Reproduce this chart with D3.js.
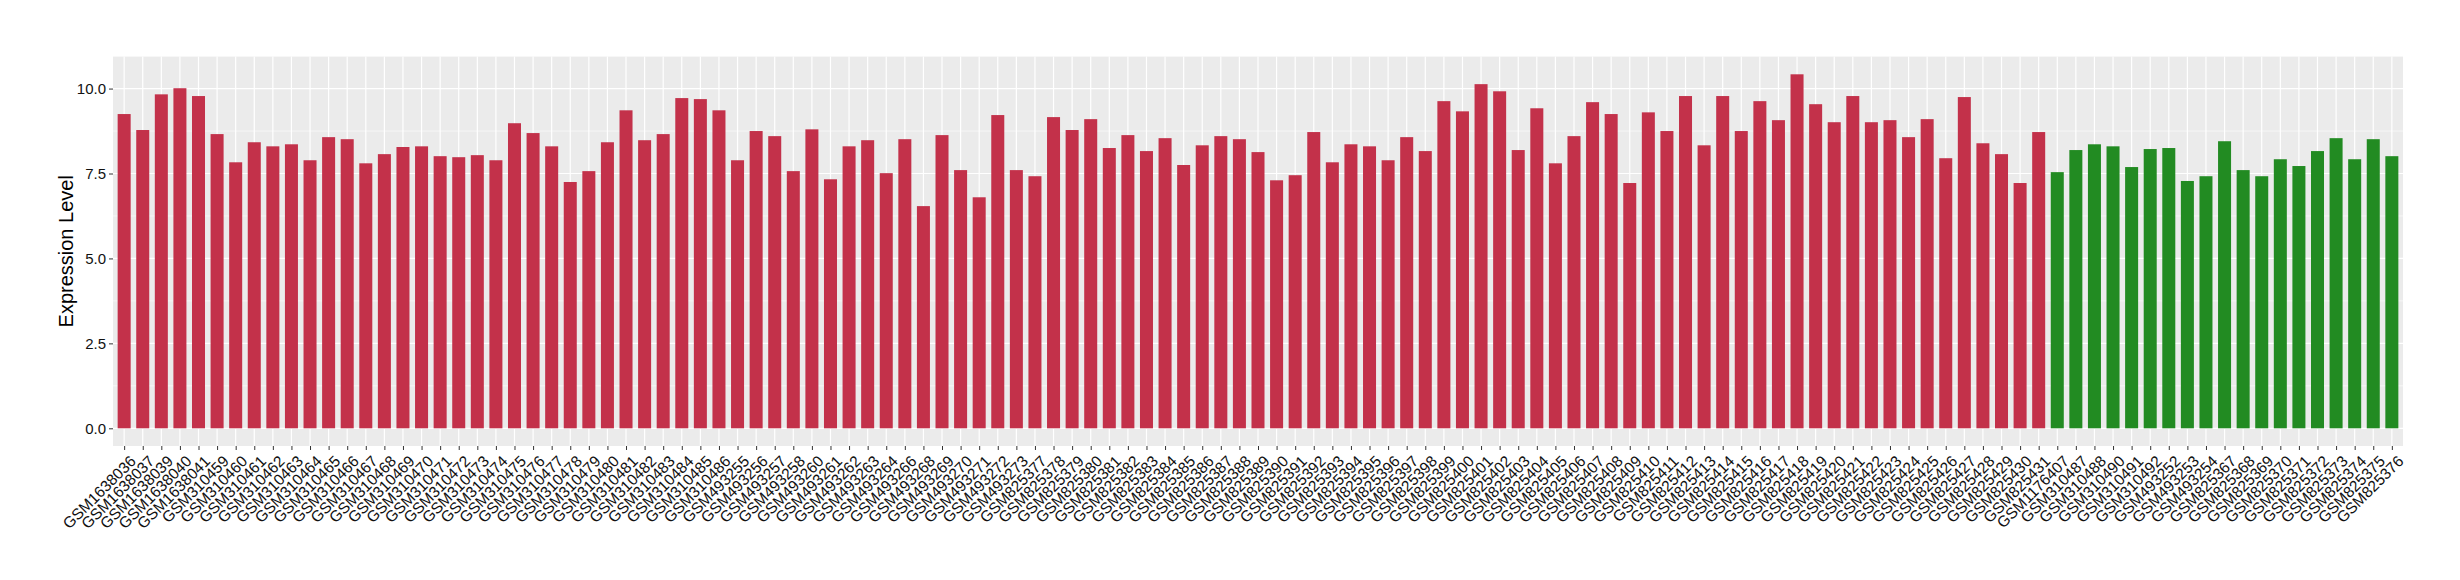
<!DOCTYPE html>
<html>
<head>
<meta charset="utf-8">
<script src="https://cdn.jsdelivr.net/npm/d3@7"></script>
<style>
  body { margin: 0; background: #fff; }
  svg text { font-family: "Liberation Sans", Arial, Helvetica, sans-serif; }
</style>
</head>
<body>
<div id="chart"></div>
<script>
// sample ids, first group (red) then second group (green)
var groupA = [
  "GSM1638036","GSM1638037","GSM1638039","GSM1638040","GSM1638041",
  "GSM310459","GSM310460","GSM310461","GSM310462","GSM310463","GSM310464","GSM310465",
  "GSM310466","GSM310467","GSM310468","GSM310469","GSM310470","GSM310471","GSM310472",
  "GSM310473","GSM310474","GSM310475","GSM310476","GSM310477","GSM310478","GSM310479",
  "GSM310480","GSM310481","GSM310482","GSM310483","GSM310484","GSM310485","GSM310486",
  "GSM493255","GSM493256","GSM493257","GSM493258","GSM493260","GSM493261","GSM493262",
  "GSM493263","GSM493264","GSM493266","GSM493268","GSM493269","GSM493270","GSM493271",
  "GSM493272","GSM493273",
  "GSM825377","GSM825378","GSM825379","GSM825380","GSM825381","GSM825382","GSM825383",
  "GSM825384","GSM825385","GSM825386","GSM825387","GSM825388","GSM825389","GSM825390",
  "GSM825391","GSM825392","GSM825393","GSM825394","GSM825395","GSM825396","GSM825397",
  "GSM825398","GSM825399","GSM825400","GSM825401","GSM825402","GSM825403","GSM825404",
  "GSM825405","GSM825406","GSM825407","GSM825408","GSM825409","GSM825410","GSM825411",
  "GSM825412","GSM825413","GSM825414","GSM825415","GSM825416","GSM825417","GSM825418",
  "GSM825419","GSM825420","GSM825421","GSM825422","GSM825423","GSM825424","GSM825425",
  "GSM825426","GSM825427","GSM825428","GSM825429","GSM825430","GSM825431"
];
var valuesA = [
  9.25,8.78,9.83,10.01,9.78,
  8.66,7.83,8.42,8.30,8.36,7.89,8.57,8.51,7.80,8.07,8.28,8.30,8.01,7.98,8.04,7.89,
  8.98,8.69,8.30,7.25,7.57,8.42,9.36,8.48,8.66,9.72,9.69,9.36,
  7.89,8.75,8.60,7.57,8.80,7.33,8.30,8.48,7.51,8.51,6.54,8.63,7.60,6.80,9.22,7.60,
  7.42,9.16,8.78,9.10,8.25,8.63,8.16,8.54,7.75,8.33,8.60,8.51,8.13,7.30,7.45,8.72,
  7.83,8.36,8.30,7.89,8.57,8.16,9.63,9.33,10.13,9.92,8.19,9.42,7.80,8.60,9.60,9.25,
  7.22,9.30,8.75,9.78,8.33,9.78,8.75,9.63,9.07,10.42,9.54,9.01,9.78,9.01,9.07,8.57,
  9.10,7.95,9.75,8.39,8.07,7.22,8.72
];
var groupB = [
  "GSM1176407","GSM310487","GSM310488","GSM310490","GSM310491","GSM310492",
  "GSM493252","GSM493253","GSM493254",
  "GSM825367","GSM825368","GSM825369","GSM825370","GSM825371","GSM825372","GSM825373",
  "GSM825374","GSM825375","GSM825376"
];
var valuesB = [
  7.54,8.19,8.36,8.30,7.69,8.22,8.25,7.28,7.42,8.45,7.60,7.42,7.92,7.72,8.16,8.54,
  7.92,8.51,8.01
];
var groupColors = ["#C3314A", "#228B22"];
var yTicks = [0, 2.5, 5, 7.5, 10];
var yMinor = [1.25, 3.75, 6.25, 8.75];

var W = 2460, H = 580;
var panel = {left: 113, right: 2403, top: 56.6, bottom: 446};

var rows = groupA.map((s,i)=>({id:s, v:valuesA[i], g:0}))
  .concat(groupB.map((s,i)=>({id:s, v:valuesB[i], g:1})));

var svg = d3.select("#chart").append("svg")
  .attr("width", W).attr("height", H);

// ggplot style expansion: 5% on continuous, 0.6 unit on discrete
var vmax = d3.max(rows, d=>d.v);
var y = d3.scaleLinear()
  .domain([-0.05*vmax, 1.05*vmax])
  .range([panel.bottom, panel.top]);

var n = rows.length;
var step = (panel.right - panel.left) / (n - 1 + 1.2);
var x = d3.scalePoint()
  .domain(rows.map(d=>d.id))
  .range([panel.left + 0.6*step, panel.right - 0.6*step]);
var barW = step * 0.7;

svg.append("rect")
  .attr("x", panel.left).attr("y", panel.top)
  .attr("width", panel.right - panel.left)
  .attr("height", panel.bottom - panel.top)
  .attr("fill", "#EBEBEB");

var grid = svg.append("g");
grid.selectAll("line.minor").data(yMinor).enter().append("line")
  .attr("x1", panel.left).attr("x2", panel.right)
  .attr("y1", d=>y(d)).attr("y2", d=>y(d))
  .attr("stroke", "#fff").attr("stroke-width", 0.6);
grid.selectAll("line.ymajor").data(yTicks).enter().append("line")
  .attr("x1", panel.left).attr("x2", panel.right)
  .attr("y1", d=>y(d)).attr("y2", d=>y(d))
  .attr("stroke", "#fff").attr("stroke-width", 1.2);
grid.selectAll("line.xmajor").data(rows).enter().append("line")
  .attr("x1", d=>x(d.id)).attr("x2", d=>x(d.id))
  .attr("y1", panel.top).attr("y2", panel.bottom)
  .attr("stroke", "#fff").attr("stroke-width", 1.2);

svg.append("g").selectAll("rect").data(rows).enter().append("rect")
  .attr("x", d=>x(d.id) - barW/2)
  .attr("width", barW)
  .attr("y", d=>y(d.v))
  .attr("height", d=>y(0) - y(d.v))
  .attr("fill", d=>groupColors[d.g]);

// y axis
var yAxis = svg.append("g")
  .attr("transform", "translate(" + panel.left + ",0)")
  .call(d3.axisLeft(y).tickValues(yTicks).tickFormat(d3.format(".1f")).tickSize(4).tickPadding(3));
yAxis.select(".domain").remove();
yAxis.selectAll(".tick line").attr("stroke", "#333");
yAxis.selectAll("text").attr("font-size", 15).attr("fill", "#111");

// x axis
var xAxis = svg.append("g")
  .attr("transform", "translate(0," + panel.bottom + ")")
  .call(d3.axisBottom(x).tickSize(4).tickPadding(0));
xAxis.select(".domain").remove();
xAxis.selectAll(".tick line").attr("stroke", "#333");
xAxis.selectAll("text")
  .attr("font-size", 15.5).attr("fill", "#111")
  .attr("text-anchor", "end")
  .attr("y", 0).attr("dy", "0.75em")
  .attr("transform", "translate(4,8) rotate(-45)");

svg.append("text")
  .attr("transform", "translate(66," + ((panel.top + panel.bottom)/2) + ") rotate(-90)")
  .attr("text-anchor", "middle")
  .attr("dy", "0.35em")
  .attr("font-size", 20)
  .attr("fill", "#000")
  .text("Expression Level");
</script>
</body>
</html>
